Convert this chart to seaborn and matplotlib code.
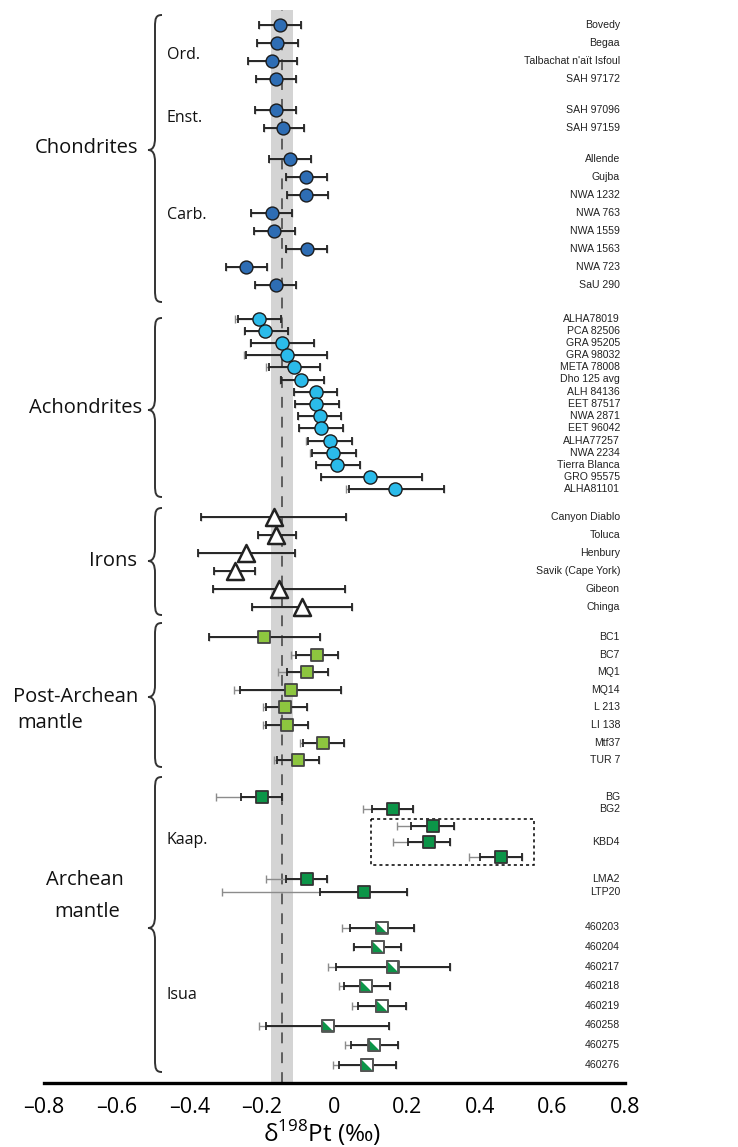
import pandas as pd
import seaborn as sns
import matplotlib.pyplot as plt
from matplotlib.path import Path
from matplotlib.patches import PathPatch, Rectangle

# ---- data (delta198Pt, per mil) ----
# lo/hi = black error bar ends, lo_ext = grey (outer) left end
ord_names = ["Bovedy", "Begaa", "Talbachat n'aït Isfoul", "SAH 97172"]
ord_val = [-0.151, -0.158, -0.171, -0.162]
ord_lo = [-0.207, -0.213, -0.238, -0.216]
ord_hi = [-0.093, -0.100, -0.104, -0.106]

enst_names = ["SAH 97096", "SAH 97159"]
enst_val = [-0.162, -0.141]
enst_lo = [-0.218, -0.195]
enst_hi = [-0.106, -0.083]

carb_names = ["Allende", "Gujba", "NWA 1232", "NWA 763", "NWA 1559",
              "NWA 1563", "NWA 723", "SaU 290"]
carb_val = [-0.123, -0.079, -0.078, -0.171, -0.166, -0.077, -0.243, -0.160]
carb_lo = [-0.180, -0.134, -0.132, -0.231, -0.223, -0.134, -0.299, -0.218]
carb_hi = [-0.066, -0.020, -0.017, -0.118, -0.110, -0.020, -0.185, -0.106]

achon_names = ["ALHA78019", "PCA 82506", "GRA 95205", "GRA 98032", "META 78008",
               "Dho 125 avg", "ALH 84136", "EET 87517", "NWA 2871", "EET 96042",
               "ALHA77257", "NWA 2234", "Tierra Blanca", "GRO 95575", "ALHA81101"]
achon_val = [-0.207, -0.191, -0.144, -0.132, -0.111, -0.091, -0.051, -0.051,
             -0.040, -0.038, -0.013, -0.003, 0.008, 0.099, 0.166]
achon_lo = [-0.267, -0.247, -0.230, -0.243, -0.181, -0.147, -0.111, -0.109,
            -0.100, -0.098, -0.073, -0.062, -0.051, -0.037, 0.040]
achon_hi = [-0.146, -0.129, -0.057, -0.020, -0.039, -0.029, 0.008, 0.012,
            0.019, 0.024, 0.047, 0.060, 0.070, 0.242, 0.302]
achon_lo_ext = [-0.275, -0.250, -0.234, -0.248, -0.188, -0.151, -0.111, -0.109,
                -0.100, -0.098, -0.078, -0.068, -0.051, -0.037, 0.033]

iron_names = ["Canyon Diablo", "Toluca", "Henbury", "Savik (Cape York)", "Gibeon", "Chinga"]
iron_val = [-0.167, -0.160, -0.243, -0.275, -0.154, -0.089]
iron_lo = [-0.367, -0.210, -0.377, -0.331, -0.335, -0.226]
iron_hi = [0.032, -0.107, -0.110, -0.218, 0.029, 0.049]

post_names = ["BC1", "BC7", "MQ1", "MQ14", "L 213", "LI 138", "Mtf37", "TUR 7"]
post_val = [-0.194, -0.048, -0.075, -0.121, -0.135, -0.131, -0.032, -0.100]
post_lo = [-0.345, -0.105, -0.131, -0.259, -0.190, -0.190, -0.087, -0.158]
post_hi = [-0.040, 0.010, -0.017, 0.018, -0.077, -0.072, 0.025, -0.044]
post_lo_ext = [-0.345, -0.121, -0.156, -0.278, -0.198, -0.198, -0.096, -0.167]

kaap_names = ["BG", "BG2", "KBD4", "KBD4", "KBD4", "LMA2", "LTP20"]
kaap_val = [-0.201, 0.161, 0.271, 0.261, 0.458, -0.076, 0.080]
kaap_lo = [-0.258, 0.103, 0.212, 0.202, 0.401, -0.133, -0.039]
kaap_hi = [-0.144, 0.217, 0.330, 0.318, 0.516, -0.020, 0.199]
kaap_lo_ext = [-0.326, 0.079, 0.171, 0.160, 0.371, -0.189, -0.310]

isua_names = ["460203", "460204", "460217", "460218", "460219", "460258", "460275", "460276"]
isua_val = [0.131, 0.120, 0.160, 0.087, 0.130, -0.018, 0.110, 0.090]
isua_lo = [0.043, 0.055, 0.003, 0.026, 0.066, -0.189, 0.046, 0.013]
isua_hi = [0.219, 0.184, 0.318, 0.153, 0.196, 0.150, 0.174, 0.168]
isua_lo_ext = [0.022, 0.052, -0.017, 0.012, 0.047, -0.208, 0.028, -0.005]

band_lo, band_hi, bse_mean = -0.175, -0.115, -0.145
ticks = [-0.8, -0.6, -0.4, -0.2, 0, 0.2, 0.4, 0.6, 0.8]
tick_labels = ["–0.8", "–0.6", "–0.4", "–0.2", "0", "0.2", "0.4", "0.6", "0.8"]

# ---- layout: vertical row positions (figure pixels from top) ----
def rows(start, pitch, n):
    return [start + pitch * i for i in range(n)]

blocks = [
    ("chond", ord_names, ord_val, ord_lo, ord_hi, ord_lo, rows(25, 18, 4)),
    ("chond", enst_names, enst_val, enst_lo, enst_hi, enst_lo, rows(110, 18, 2)),
    ("chond", carb_names, carb_val, carb_lo, carb_hi, carb_lo, rows(159, 18, 8)),
    ("achon", achon_names, achon_val, achon_lo, achon_hi, achon_lo_ext, rows(318.5, 12.2, 15)),
    ("iron", iron_names, iron_val, iron_lo, iron_hi, iron_lo, rows(517, 18, 6)),
    ("post", post_names, post_val, post_lo, post_hi, post_lo_ext, rows(637, 17.6, 8)),
    ("kaap", kaap_names, kaap_val, kaap_lo, kaap_hi, kaap_lo_ext, [797, 809, 826, 842, 857, 879, 892]),
    ("isua", isua_names, isua_val, isua_lo, isua_hi, isua_lo_ext, rows(927.5, 19.6, 8)),
]

frames = []
for grp, names, val, lo, hi, lo_ext, ys in blocks:
    frames.append(pd.DataFrame({"group": grp, "name": names, "val": val, "lo": lo,
                                "hi": hi, "lo_ext": lo_ext, "y": ys}))
df = pd.concat(frames, ignore_index=True)

sns.set_style("white")
plt.rcParams["font.family"] = ["Open Sans", "DejaVu Sans"]
plt.rcParams["mathtext.fontset"] = "custom"
plt.rcParams["mathtext.rm"] = "Open Sans"

W, H = 738, 1147
fig = plt.figure(figsize=(W / 100, H / 100), dpi=100)
ov = fig.add_axes([0, 0, 1, 1])
ov.set_xlim(0, W)
ov.set_ylim(H, 0)
ov.axis("off")

ax = fig.add_axes([44 / W, 64 / H, 581 / W, 1073 / H])
ax.patch.set_visible(False)
ax.set_xlim(-0.8, 0.8)
ax.set_ylim(1083, 10)

# reference band for the mantle value
ax.axvspan(band_lo, band_hi, color="#d4d4d4", lw=0, zorder=0)
ax.axvline(bse_mean, color="#555555", lw=1.3, dashes=(6, 5), zorder=1)

# error bars: grey outer, black inner
ax.errorbar(df["val"], df["y"], xerr=[df["val"] - df["lo_ext"], df["hi"] - df["val"]],
            fmt="none", ecolor="#8c8c8c", elinewidth=1.0, capsize=2.6, capthick=1.0, zorder=2)
ax.errorbar(df["val"], df["y"], xerr=[df["val"] - df["lo"], df["hi"] - df["val"]],
            fmt="none", ecolor="#262626", elinewidth=1.4, capsize=2.8, capthick=1.3, zorder=3)

styles = {
    "chond": dict(marker="o", color="#2e6db4", s=86, edgecolor="#1c1c1c", linewidth=1.0),
    "achon": dict(marker="o", color="#2bbbea", s=90, edgecolor="#1c1c1c", linewidth=1.0),
    "iron": dict(marker="^", color="white", s=150, edgecolor="#222222", linewidth=1.8),
    "post": dict(marker="s", color="#8dc63f", s=74, edgecolor="#444444", linewidth=1.3),
    "kaap": dict(marker="s", color="#0c9548", s=80, edgecolor="#333333", linewidth=1.3),
    "isua": dict(marker="s", color="white", s=72, edgecolor="#555555", linewidth=1.3),
}
for grp, st in styles.items():
    sns.scatterplot(data=df[df["group"] == grp], x="val", y="y", ax=ax,
                    legend=False, zorder=4, **st)

# half-filled Isua squares
half = Path([(-1, 1), (-1, -1), (1, -1), (-1, 1)],
            [Path.MOVETO, Path.LINETO, Path.LINETO, Path.CLOSEPOLY])
isua_df = df[df["group"] == "isua"]
sns.scatterplot(data=isua_df, x="val", y="y", ax=ax, marker=half, color="#0c9548",
                s=72, linewidth=0, legend=False, zorder=5)
ax.scatter(isua_df["val"], isua_df["y"], marker="s", s=72, facecolor="none",
           edgecolor="#555555", linewidths=1.3, zorder=6)

# dotted box around KBD4
ax.add_patch(Rectangle((0.10, 819), 0.45, 46, fill=False, ec="black", lw=1.1,
                       ls=(0, (2, 2)), zorder=3))

ax.set_yticks([])
ax.set_ylabel("")
ax.set_xlabel("")
ax.set_xticks(ticks)
ax.set_xticklabels(tick_labels)
ax.tick_params(axis="x", direction="out", length=7, width=1.8, pad=3,
               labelsize=15.5, color="black", labelcolor="black")
for sp in ["left", "right", "top"]:
    ax.spines[sp].set_visible(False)
ax.spines["bottom"].set_linewidth(2.4)
ax.spines["bottom"].set_color("black")

ov.text(322, 1133, "δ$^{198}$Pt (‰)", fontsize=17.5, ha="center", va="center",
        color="black")

# sample names on the right
for name, sub in df.groupby("name", sort=False):
    ov.text(620, sub["y"].mean(), name, ha="right", va="center", fontsize=7.6,
            family=["Liberation Sans", "DejaVu Sans"], color="#222222")


def brace(x_tip, top, mid, bot, w=14):
    xm = x_tip + w * 0.5
    xr = x_tip + w
    verts = [(xr, top), (xm + 1, top), (xm, top + 3), (xm, top + 12),
             (xm, mid - 12),
             (xm, mid - 4), (xm - 2, mid), (x_tip, mid),
             (xm - 2, mid), (xm, mid + 4), (xm, mid + 12),
             (xm, bot - 12),
             (xm, bot - 3), (xm + 1, bot), (xr, bot)]
    codes = [Path.MOVETO, Path.CURVE4, Path.CURVE4, Path.CURVE4,
             Path.LINETO,
             Path.CURVE4, Path.CURVE4, Path.CURVE4,
             Path.CURVE4, Path.CURVE4, Path.CURVE4,
             Path.LINETO,
             Path.CURVE4, Path.CURVE4, Path.CURVE4]
    ov.add_patch(PathPatch(Path(verts, codes), fill=False, ec="#333333", lw=1.4))


brace(148, 15, 150, 302)
brace(148, 318, 410, 497)
brace(148, 508, 561, 615)
brace(148, 623, 697, 767)
brace(148, 777, 928, 1072)

big = dict(fontsize=14.5, va="center", color="#111111")
ov.text(138, 148, "Chondrites", ha="right", **big)
ov.text(142, 408, "Achondrites", ha="right", **big)
ov.text(137, 561, "Irons", ha="right", **big)
ov.text(13, 697, "Post-Archean", ha="left", **big)
ov.text(17, 723, "mantle", ha="left", **big)
ov.text(85, 880, "Archean", ha="center", **big)
ov.text(87, 912, "mantle", ha="center", **big)

small = dict(fontsize=11.5, va="center", ha="left", color="#111111")
ov.text(167, 55, "Ord.", **small)
ov.text(167, 118, "Enst.", **small)
ov.text(167, 215, "Carb.", **small)
ov.text(167, 840, "Kaap.", **small)
ov.text(167, 995, "Isua", **small)

fig.savefig("out.png", dpi=100)
